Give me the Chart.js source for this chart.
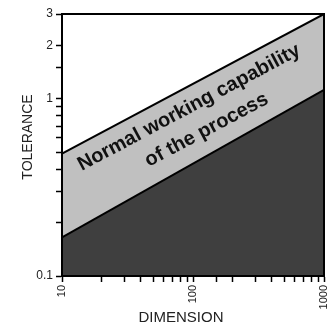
<!DOCTYPE html>
<html>
<head>
<meta charset="utf-8">
<script src="https://cdn.jsdelivr.net/npm/chart.js@4.4.1/dist/chart.umd.min.js"></script>
<style>
  html, body { margin: 0; padding: 0; background: #fff; }
  #wrap { width: 331px; height: 327px; }
</style>
</head>
<body>
<div id="wrap"><canvas id="myChart"></canvas></div>
<script>
// values (log-log)
const dimensions = [10, 1000];
const lowerTolerance = [0.165, 1.12];
const upperTolerance = [0.49, 3.0];
const yLabelled = [0.1, 1, 2, 3];
const xLabelled = [10, 100, 1000];
const bandText = ['Normal working capability', 'of the process'];
const xTitle = 'DIMENSION';
const yTitle = 'TOLERANCE';

const FONT = '"Liberation Sans", Arial, sans-serif';

const toPoints = (ys) => dimensions.map((d, i) => ({ x: d, y: ys[i] }));

// box round the plot, band label and axis titles
const extras = {
  id: 'extras',
  afterDatasetsDraw(chart) {
    const { ctx, chartArea: a, scales } = chart;
    const xs = scales.x, ys = scales.y;

    // band label, rotated along the band
    const x0 = xs.getPixelForValue(dimensions[0]);
    const x1 = xs.getPixelForValue(dimensions[1]);
    const y0 = ys.getPixelForValue(upperTolerance[0]);
    const y1 = ys.getPixelForValue(upperTolerance[1]);
    const angle = Math.atan2(y1 - y0, x1 - x0);
    const mid = Math.sqrt(dimensions[0] * dimensions[1]);
    const cx = xs.getPixelForValue(mid);
    const up = ys.getPixelForValue(Math.sqrt(upperTolerance[0] * upperTolerance[1]));
    const lo = ys.getPixelForValue(Math.sqrt(lowerTolerance[0] * lowerTolerance[1]));
    const cy = (up + lo) / 2;

    ctx.save();
    ctx.translate(cx, cy);
    ctx.rotate(angle);
    ctx.fillStyle = '#111';
    ctx.font = 'bold 20px ' + FONT;
    ctx.textAlign = 'center';
    ctx.textBaseline = 'middle';
    ctx.fillText(bandText[0], 4, -16);
    ctx.fillText(bandText[1], 9, 12);
    ctx.restore();

    ctx.save();
    ctx.strokeStyle = '#000';
    ctx.lineWidth = 2;
    ctx.strokeRect(a.left, a.top, a.right - a.left, a.bottom - a.top);
    ctx.restore();
  },
  afterDraw(chart) {
    const { ctx } = chart;
    ctx.save();
    ctx.fillStyle = '#222';
    ctx.textAlign = 'center';
    ctx.textBaseline = 'middle';
    ctx.font = '15px ' + FONT;
    ctx.fillText(xTitle, 181, 318);
    ctx.translate(28, 137);
    ctx.rotate(-Math.PI / 2);
    ctx.font = '14px ' + FONT;
    ctx.fillText(yTitle, 0, 0);
    ctx.restore();
  }
};

new Chart(document.getElementById('myChart').getContext('2d'), {
  type: 'line',
  data: {
    datasets: [
      {
        data: toPoints(lowerTolerance),
        borderColor: '#000',
        borderWidth: 2,
        backgroundColor: '#3f3f3f',
        fill: 'start',
        pointRadius: 0,
      },
      {
        data: toPoints(upperTolerance),
        borderColor: '#000',
        borderWidth: 2,
        backgroundColor: '#c0c0c0',
        fill: '-1',
        pointRadius: 0,
      },
    ],
  },
  options: {
    responsive: true,
    maintainAspectRatio: false,
    animation: false,
    layout: { padding: { top: 14, right: 0, left: 0, bottom: 0 } },
    plugins: { legend: { display: false }, tooltip: { enabled: false } },
    scales: {
      x: {
        type: 'logarithmic',
        min: 10,
        max: 1000,
        afterFit: (s) => { s.height = 51; s.paddingRight = 7; },
        grid: { drawOnChartArea: false, tickLength: 6, tickColor: '#000', tickWidth: 1.5 },
        border: { display: true, color: '#000', width: 2 },
        ticks: {
          autoSkip: false,
          minRotation: 90,
          maxRotation: 90,
          padding: 3,
          color: '#222',
          font: { family: FONT, size: 11 },
          callback: (v) => (xLabelled.includes(v) ? String(v) : ''),
        },
      },
      y: {
        type: 'logarithmic',
        min: 0.1,
        max: 3,
        afterFit: (s) => { s.width = 62; },
        grid: { drawOnChartArea: false, tickLength: 6, tickColor: '#000', tickWidth: 1.5 },
        border: { display: true, color: '#000', width: 2 },
        ticks: {
          autoSkip: false,
          padding: 3,
          color: '#222',
          font: { family: FONT, size: 12 },
          callback: (v) => (yLabelled.includes(v) ? String(v) : ''),
        },
      },
    },
  },
  plugins: [extras],
});
</script>
</body>
</html>
